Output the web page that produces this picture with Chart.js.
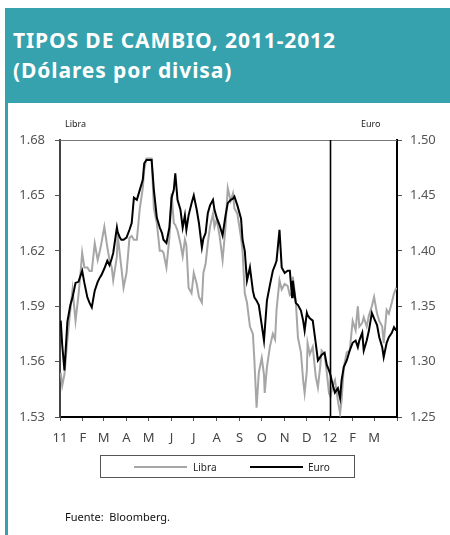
<!DOCTYPE html>
<html>
<head>
<meta charset="utf-8">
<script src="https://cdn.jsdelivr.net/npm/chart.js@4.4.0/dist/chart.umd.min.js"></script>
<style>
  body { margin: 0; width: 450px; height: 535px; position: relative; background: #fff; overflow: hidden; font-family: "Noto Sans", sans-serif; }
  .abs { position: absolute; }
  #header { left: 6px; top: 8px; width: 444px; height: 95px; background: #35a2ae; }
  #leftbar { left: 5px; top: 8px; width: 3px; height: 527px; background: #35a2ae; }
  #title { left: 13px; top: 25px; color: #fff; font-weight: bold; font-size: 21px; letter-spacing: 0.9px; line-height: 30px; white-space: nowrap; }
  .axlabel { top: 117px; font-size: 9px; color: #222; }
  #legend { left: 100px; top: 455px; width: 255px; height: 23px; border: 1.5px solid #555; box-sizing: border-box; font-size: 10px; color: #222; }
  .swatch { position: absolute; top: 10px; width: 53px; height: 2px; }
  .ltxt { position: absolute; top: 4px; }
  #source { left: 65px; top: 509px; font-size: 11px; color: #111; }
</style>
</head>
<body>
<div id="header" class="abs"></div>
<div id="leftbar" class="abs"></div>
<div id="title" class="abs">TIPOS DE CAMBIO, 2011-2012<br>(Dólares por divisa)</div>
<canvas id="chart" class="abs" width="450" height="535" style="left:0;top:0"></canvas>
<div class="abs axlabel" style="left:65px">Libra</div>
<div class="abs axlabel" style="left:361px">Euro</div>
<div id="legend" class="abs">
  <div class="swatch" style="left:33px;background:#a6a6a6"></div><div class="ltxt" style="left:92px">Libra</div>
  <div class="swatch" style="left:149px;background:#000"></div><div class="ltxt" style="left:207px">Euro</div>
</div>
<div id="source" class="abs">Fuente:&nbsp; Bloomberg.</div>
<script>
const dates = [
  '2011-01-02','2011-01-04','2011-01-07','2011-01-11','2011-01-15','2011-01-18','2011-01-22','2011-01-26','2011-01-29','2011-01-31',
  '2011-02-03','2011-02-07','2011-02-10','2011-02-13','2011-02-17','2011-02-21','2011-02-24','2011-02-26',
  '2011-03-02','2011-03-06','2011-03-09','2011-03-12','2011-03-14','2011-03-19','2011-03-20','2011-03-23','2011-03-25','2011-03-28',
  '2011-04-01','2011-04-05','2011-04-08','2011-04-11','2011-04-15','2011-04-19','2011-04-23','2011-04-25','2011-04-28',
  '2011-05-02','2011-05-05','2011-05-08','2011-05-12','2011-05-16','2011-05-19','2011-05-21','2011-05-25','2011-05-29',
  '2011-06-01','2011-06-04','2011-06-06','2011-06-09','2011-06-13','2011-06-16','2011-06-19','2011-06-21','2011-06-24','2011-06-28',
  '2011-07-01','2011-07-05','2011-07-08','2011-07-12','2011-07-14','2011-07-17','2011-07-20','2011-07-23','2011-07-27','2011-07-29',
  '2011-08-01','2011-08-05','2011-08-09','2011-08-13','2011-08-16','2011-08-20','2011-08-23','2011-08-25','2011-08-29',
  '2011-09-03','2011-09-05','2011-09-08','2011-09-11','2011-09-15','2011-09-19','2011-09-21','2011-09-24','2011-09-27',
  '2011-10-01','2011-10-04','2011-10-05','2011-10-08','2011-10-12','2011-10-16','2011-10-19','2011-10-21','2011-10-25','2011-10-28',
  '2011-11-01','2011-11-05','2011-11-08','2011-11-11','2011-11-12','2011-11-16','2011-11-19','2011-11-23','2011-11-26','2011-11-28',
  '2011-12-01','2011-12-02','2011-12-05','2011-12-09','2011-12-13','2011-12-16','2011-12-19','2011-12-21','2011-12-25','2011-12-28','2011-12-31',
  '2012-01-02','2012-01-05','2012-01-08','2012-01-12','2012-01-15','2012-01-17','2012-01-20','2012-01-24','2012-01-28',
  '2012-02-01','2012-02-05','2012-02-08','2012-02-10','2012-02-14','2012-02-16','2012-02-20','2012-02-23','2012-02-27',
  '2012-03-01','2012-03-05','2012-03-08','2012-03-12','2012-03-14','2012-03-18','2012-03-21','2012-03-25','2012-03-28','2012-03-31'
]

const libra = [
  1.554,1.547,1.553,1.572,1.588,1.599,1.582,1.596,1.609,1.619,
  1.611,1.611,1.609,1.609,1.624,1.615,1.620,1.624,
  1.633,1.622,1.615,1.611,1.604,1.617,1.629,1.618,1.611,1.600,
  1.608,1.627,1.628,1.626,1.626,1.643,1.654,1.664,1.670,
  1.670,1.670,1.643,1.635,1.620,1.620,1.619,1.611,1.627,
  1.651,1.635,1.634,1.631,1.624,1.617,1.626,1.623,1.600,1.597,
  1.608,1.602,1.595,1.592,1.608,1.613,1.624,1.633,1.640,1.633,
  1.637,1.628,1.615,1.633,1.654,1.647,1.651,1.643,1.640,
  1.627,1.620,1.597,1.592,1.579,1.575,1.561,1.535,1.554,
  1.562,1.553,1.543,1.557,1.568,1.575,1.572,1.588,1.604,1.599,
  1.602,1.601,1.596,1.597,1.606,1.593,1.573,1.565,1.550,1.543,
  1.555,1.570,1.564,1.568,1.552,1.546,1.557,1.566,1.564,1.554,1.543,
  1.541,1.547,1.550,1.539,1.532,1.539,1.557,1.565,1.566,
  1.582,1.577,1.590,1.579,1.581,1.584,1.579,1.585,1.590,
  1.595,1.586,1.582,1.579,1.570,1.588,1.586,1.592,1.597,1.600
]

const euro = [
  1.337,1.315,1.292,1.336,1.351,1.358,1.371,1.372,1.378,1.382,
  1.371,1.358,1.353,1.349,1.364,1.372,1.376,1.378,
  1.384,1.391,1.387,1.393,1.398,1.421,1.417,1.412,1.410,1.410,
  1.412,1.419,1.425,1.448,1.446,1.455,1.464,1.479,1.482,
  1.482,1.482,1.455,1.430,1.421,1.416,1.410,1.407,1.421,
  1.448,1.455,1.470,1.446,1.437,1.421,1.432,1.419,1.432,1.443,
  1.450,1.437,1.425,1.403,1.411,1.416,1.434,1.441,1.446,1.437,
  1.430,1.423,1.414,1.432,1.443,1.446,1.447,1.449,1.441,
  1.429,1.410,1.400,1.373,1.385,1.364,1.358,1.355,1.351,
  1.333,1.319,1.328,1.355,1.369,1.382,1.387,1.391,1.419,1.385,
  1.380,1.382,1.382,1.358,1.373,1.353,1.351,1.346,1.337,1.328,
  1.344,1.342,1.339,1.337,1.317,1.301,1.304,1.306,1.308,1.297,1.292,
  1.288,1.279,1.272,1.276,1.267,1.283,1.295,1.301,1.310,
  1.317,1.319,1.313,1.319,1.326,1.310,1.319,1.328,1.344,
  1.339,1.333,1.322,1.313,1.304,1.317,1.322,1.326,1.331,1.328
]

const monthStarts = ['2011-01-01','2011-02-01','2011-03-01','2011-04-01','2011-05-01','2011-06-01','2011-07-01','2011-08-01',
  '2011-09-01','2011-10-01','2011-11-01','2011-12-01','2012-01-01','2012-02-01','2012-03-01','2012-04-01']
const monthLabels = ['11','F','M','A','M','J','J','A','S','O','N','D','12','F','M','']
const libraTicks = [1.53, 1.56, 1.59, 1.62, 1.65, 1.68]
const euroTicks = [1.25, 1.30, 1.35, 1.40, 1.45, 1.50]
const yearBreak = '2012-01-01'

// days since 1 Jan 2011
function dayOf(s) {
  const p = s.split('-').map(Number)
  return (Date.UTC(p[0], p[1] - 1, p[2]) - Date.UTC(2011, 0, 1)) / 86400000
}

const tickFont = { family: "Noto Sans", size: 13 }

// top border of the plot and the vertical line at the start of 2012
const framePlugin = {
  id: 'frame',
  afterDatasetsDraw(chart) {
    const ctx = chart.ctx
    const a = chart.chartArea
    ctx.save()
    ctx.strokeStyle = '#777'
    ctx.lineWidth = 1
    ctx.beginPath()
    ctx.moveTo(a.left, a.top + 0.5)
    ctx.lineTo(a.right, a.top + 0.5)
    ctx.stroke()
    const x = Math.round(chart.scales.x.getPixelForValue(dayOf(yearBreak))) + 0.5
    ctx.strokeStyle = '#000'
    ctx.lineWidth = 1.6
    ctx.beginPath()
    ctx.moveTo(x, a.top)
    ctx.lineTo(x, a.bottom)
    ctx.stroke()
    ctx.restore()
  }
}

const ctx = document.getElementById('chart').getContext('2d')
const myChart = new Chart(ctx, {
  type: 'line',
  data: {
    datasets: [{
      label: 'Euro',
      data: dates.map((d, i) => ({ x: dayOf(d), y: euro[i] })),
      yAxisID: 'y1',
      borderColor: '#000',
      borderWidth: 2,
      pointRadius: 0,
      order: 1
    }, {
      label: 'Libra',
      data: dates.map((d, i) => ({ x: dayOf(d), y: libra[i] })),
      yAxisID: 'y',
      borderColor: '#a6a6a6',
      borderWidth: 2,
      pointRadius: 0,
      order: 2
    }]
  },
  options: {
    responsive: false,
    animation: false,
    layout: { padding: { top: 140, left: 0, right: 0, bottom: 88 } },
    plugins: {
      legend: { display: false },
      tooltip: { enabled: false }
    },
    scales: {
      x: {
        type: 'linear',
        min: 0,
        max: dayOf(monthStarts[monthStarts.length - 1]),
        afterBuildTicks: (s) => { s.ticks = monthStarts.map(m => ({ value: dayOf(m) })) },
        afterFit: (s) => { s.height = 30 },
        border: { display: true, color: '#000', width: 2 },
        grid: { drawOnChartArea: false, drawTicks: true, tickLength: 4, color: '#555' },
        ticks: {
          autoSkip: false,
          maxRotation: 0,
          padding: 9,
          color: '#444',
          font: tickFont,
          callback: (v, i) => monthLabels[i]
        }
      },
      y: {
        position: 'left',
        min: libraTicks[0],
        max: libraTicks[libraTicks.length - 1],
        afterBuildTicks: (s) => { s.ticks = libraTicks.map(v => ({ value: v })) },
        afterFit: (s) => { s.width = 60 },
        border: { display: true, color: '#444', width: 2 },
        grid: { drawOnChartArea: false, drawTicks: true, tickLength: 5, color: '#555' },
        ticks: { padding: 10, color: '#555', font: tickFont, callback: v => v.toFixed(2) }
      },
      y1: {
        position: 'right',
        min: euroTicks[0],
        max: euroTicks[euroTicks.length - 1],
        afterBuildTicks: (s) => { s.ticks = euroTicks.map(v => ({ value: v })) },
        afterFit: (s) => { s.width = 53 },
        border: { display: true, color: '#000', width: 2 },
        grid: { drawOnChartArea: false, drawTicks: true, tickLength: 5, color: '#555' },
        ticks: { padding: 8, color: '#555', font: tickFont, callback: v => v.toFixed(2) }
      }
    }
  },
  plugins: [framePlugin]
})
</script>
</body>
</html>
